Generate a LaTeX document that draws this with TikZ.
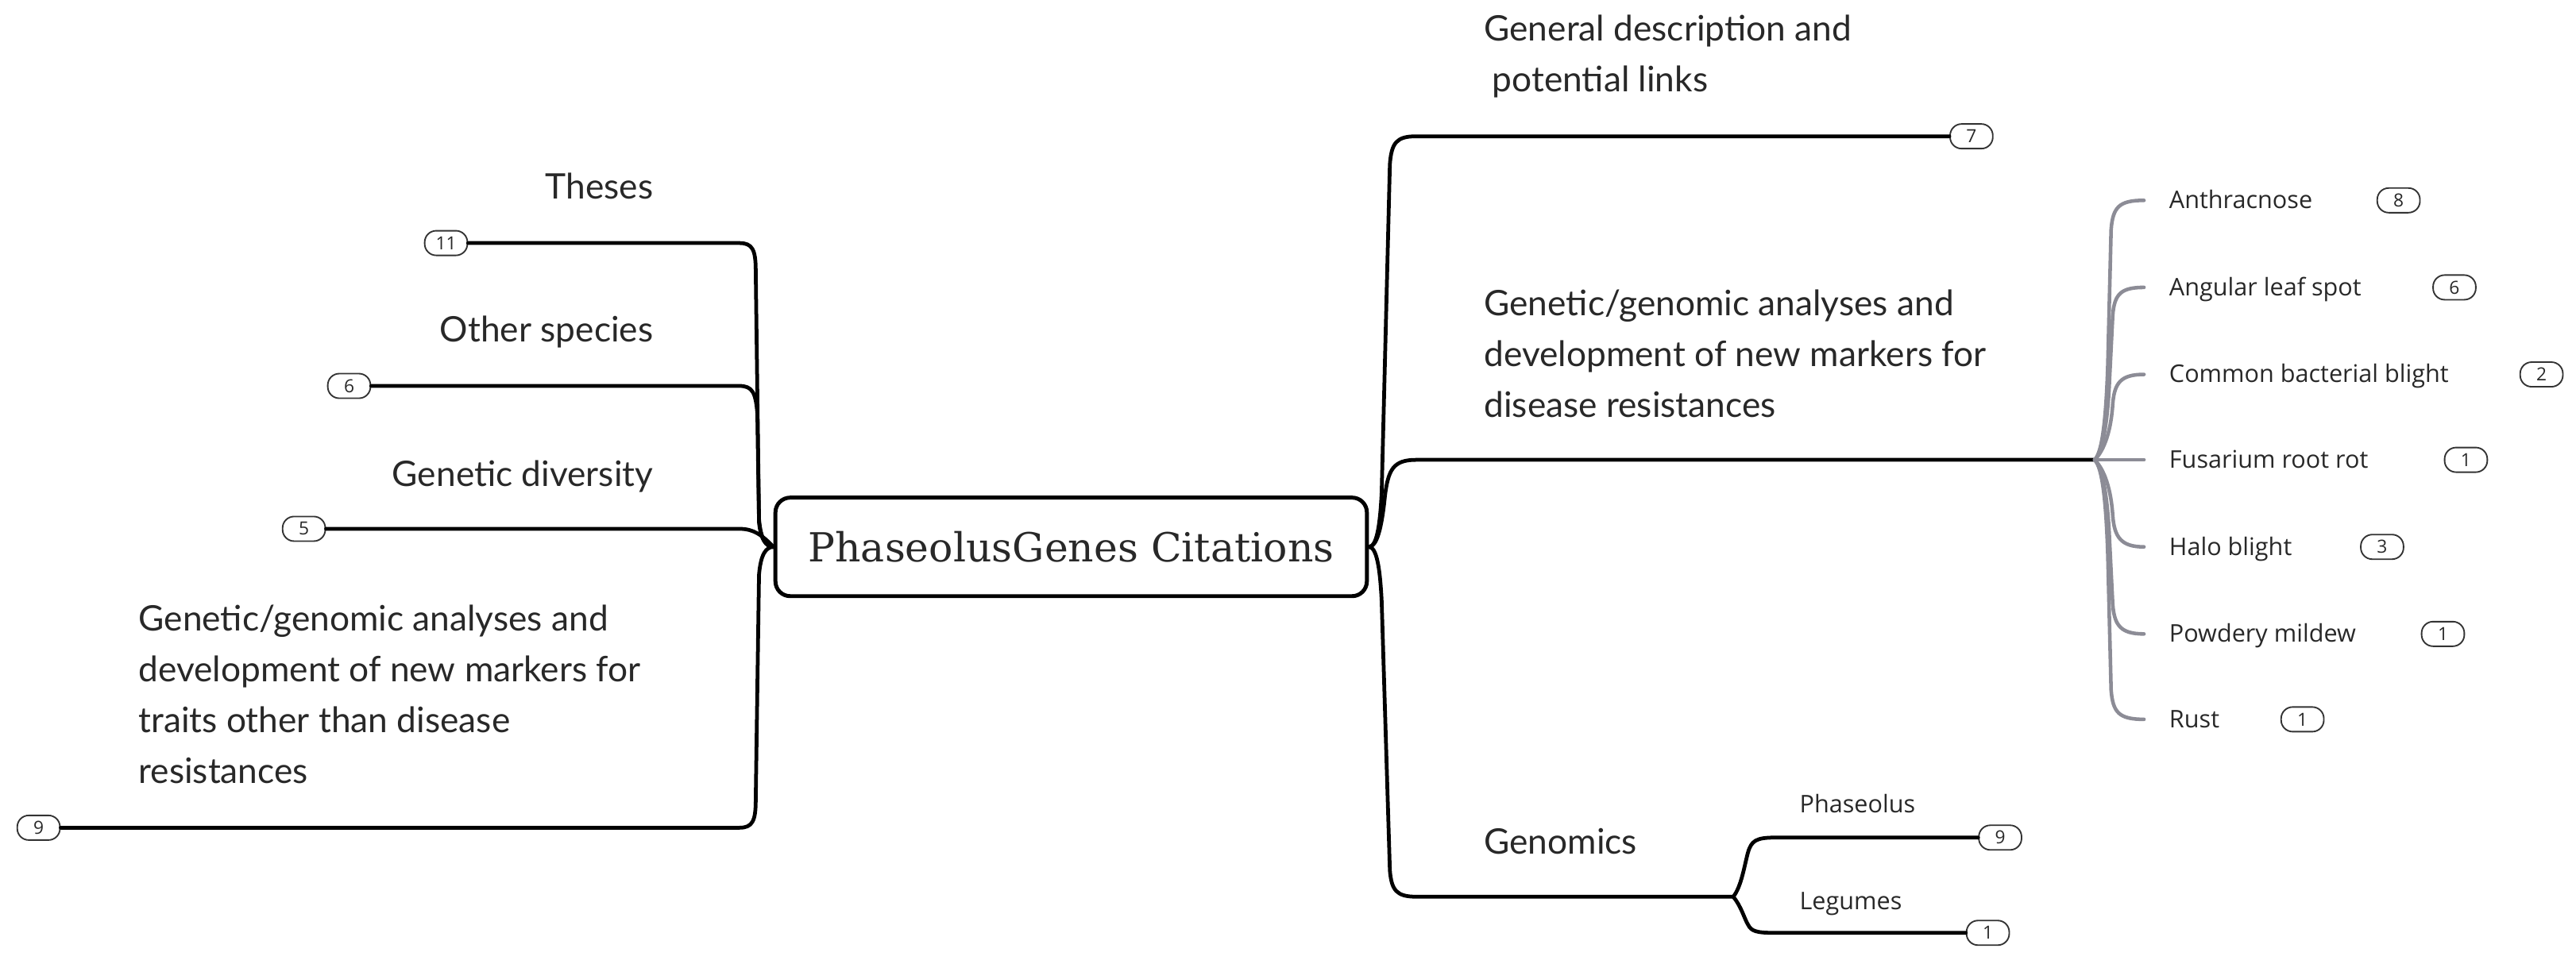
\documentclass[tikz,border=0pt]{standalone}
\usepackage{fontspec}
\setmainfont{Lato}
\newfontfamily\titlefont{DejaVu Serif}
\newfontfamily\subfont{Open Sans}
\newcommand\mlines[1]{\begin{tabular}[t]{@{}l@{}}#1\end{tabular}}
\definecolor{subgray}{RGB}{140,140,150}
\definecolor{txt}{RGB}{40,40,40}
\begin{document}
\begin{tikzpicture}[x=0.5pt,y=-0.5pt,
  branch/.style={line width=1.15pt, black, line cap=round},
  subbr/.style={line width=1.1pt, subgray, line cap=round},
  pill/.style={draw=black!80, line width=0.45pt, rounded corners=3.5pt, minimum width=13pt, minimum height=7.5pt, inner sep=0pt, font=\subfont\fontsize{5.5}{6}\selectfont, text=txt},
  lbl/.style={inner sep=0pt, font=\fontsize{10.7}{15.5}\selectfont, text=txt},
  sublbl/.style={inner sep=0pt, font=\subfont\fontsize{7.4}{8}\selectfont, text=txt},
  rootbox/.style={draw, line width=1.2pt, rounded corners=4.5pt, minimum width=180pt, minimum height=30pt, inner sep=0pt, font=\titlefont\fontsize{12.2}{14}\selectfont, text=txt}]
\useasboundingbox (0,0) rectangle (1568,586.5);

% root
\node[rootbox] (root) at (652,333) {PhaseolusGenes Citations};

% ---------- left side ----------
\node[lbl, anchor=base east] (theses) at (398,121) {Theses};
\node[lbl, anchor=base east] (other) at (398,208) {Other species};
\node[lbl, anchor=base east] (gdiv) at (398,296) {Genetic diversity};
\node[lbl, anchor=base west] (gtraits) at (84,384) {\mlines{Genetic/genomic analyses and\\development of new markers for\\traits other than disease\\resistances}};

\node[pill] (p11) at (271.5,148) {11};
\node[pill] (p6) at (212.5,235) {6};
\node[pill] (p5) at (185,322) {5};
\node[pill] (p9L) at (23.5,504) {9};

\draw[branch] (p11.east) -- (450,148) .. controls (458,148) and (460,152) .. (460,165) -- (462,316) .. controls (463,328) and (466,333) .. (root.west);
\draw[branch] (p6.east) -- (450,235) .. controls (458,235) and (460,239) .. (461,252) -- (462,318) .. controls (463,328) and (466,333) .. (root.west);
\draw[branch] (p5.east) -- (450,322) .. controls (459,322) and (464,326) .. (root.west);
\draw[branch] (p9L.east) -- (450,504) .. controls (458,504) and (460,500) .. (460,487) -- (462,350) .. controls (463,338) and (466,333) .. (root.west);

% ---------- right side ----------
\node[lbl, anchor=base west] (gen) at (903,25) {\mlines{General description and\\\hspace*{2.5pt}potential links}};
\node[lbl, anchor=base west] (gdis) at (903,192) {\mlines{Genetic/genomic analyses and\\development of new markers for\\disease resistances}};
\node[lbl, anchor=base west] (genom) at (903,520) {Genomics};

\node[pill] (p7) at (1200,83) {7};
\coordinate (J) at (1275,280);
\coordinate (J2) at (1055,546);

\draw[branch] (root.east) .. controls (838,333) and (840,320) .. (841,300) -- (846,100) .. controls (847,87) and (850,83) .. (862,83) -- (p7.west);
\draw[branch] (root.east) .. controls (838,333) and (841,322) .. (843,302) .. controls (845,286) and (848,280) .. (862,280) -- (J);
\draw[branch] (root.east) .. controls (838,333) and (840,346) .. (841,366) -- (846,530) .. controls (847,542) and (850,546) .. (862,546) -- (J2);

% disease sub-branches
\node[sublbl, anchor=base west] (sA) at (1320,127) {Anthracnose};
\node[sublbl, anchor=base west] (sB) at (1320,180) {Angular leaf spot};
\node[sublbl, anchor=base west] (sC) at (1320,233) {Common bacterial blight};
\node[sublbl, anchor=base west] (sD) at (1320,285) {Fusarium root rot};
\node[sublbl, anchor=base west] (sE) at (1320,338) {Halo blight};
\node[sublbl, anchor=base west] (sF) at (1320,391) {Powdery mildew};
\node[sublbl, anchor=base west] (sG) at (1320,443) {Rust};

\node[pill] (pA) at (1460,122) {8};
\node[pill] (pB) at (1494,175) {6};
\node[pill] (pC) at (1547,228) {2};
\node[pill] (pD) at (1501,280) {1};
\node[pill] (pE) at (1450,333) {3};
\node[pill] (pF) at (1487,386) {1};
\node[pill] (pG) at (1401.5,438) {1};

\coordinate (eA) at (1305,122);
\coordinate (eB) at (1305,175);
\coordinate (eC) at (1305,228);
\coordinate (eD) at (1305,280);
\coordinate (eE) at (1305,333);
\coordinate (eF) at (1305,386);
\coordinate (eG) at (1305,438);

\draw[subbr] (J) .. controls (1280,275) and (1282,252) .. (1283,222) -- (1285,140) .. controls (1286,126) and (1290,122) .. (eA);
\draw[subbr] (J) .. controls (1280,275) and (1283,256) .. (1284,232) -- (1286,192) .. controls (1287,179) and (1291,175) .. (eB);
\draw[subbr] (J) .. controls (1281,274) and (1285,262) .. (1286,246) .. controls (1287,233) and (1291,228) .. (eC);
\draw[subbr] (J) -- (eD);
\draw[subbr] (J) .. controls (1281,286) and (1285,298) .. (1286,314) .. controls (1287,327) and (1291,333) .. (eE);
\draw[subbr] (J) .. controls (1280,285) and (1283,304) .. (1284,328) -- (1286,368) .. controls (1287,381) and (1291,386) .. (eF);
\draw[subbr] (J) .. controls (1280,285) and (1282,308) .. (1283,338) -- (1285,420) .. controls (1286,434) and (1290,438) .. (eG);

% genomics sub-branches
\node[sublbl, anchor=base west] (sPh) at (1095,495) {Phaseolus};
\node[sublbl, anchor=base west] (sLe) at (1095,554) {Legumes};
\node[pill] (pPh) at (1217.5,510) {9};
\node[pill] (pLe) at (1210,568) {1};

\draw[branch] (J2) .. controls (1060,540) and (1062,526) .. (1064,519) .. controls (1066,512) and (1069,510) .. (1080,510) -- (pPh.west);
\draw[branch] (J2) .. controls (1060,552) and (1062,560) .. (1064,563) .. controls (1066,567) and (1069,568) .. (1080,568) -- (pLe.west);
\end{tikzpicture}
\end{document}
